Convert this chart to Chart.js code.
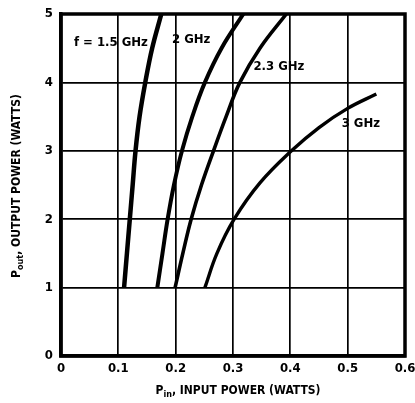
<!DOCTYPE html>
<html><head><meta charset="utf-8">
<script src="https://cdn.jsdelivr.net/npm/chart.js@4.4.0/dist/chart.umd.min.js"></script>
<style>html,body{margin:0;padding:0;background:#fff}#wrap{width:415px;height:403px}</style>
</head><body><div id="wrap"><canvas id="c" width="415" height="403"></canvas></div>
<script>
const xTicks = [0, 0.1, 0.2, 0.3, 0.4, 0.5, 0.6];
const yTicks = [0, 1, 2, 3, 4, 5];
const seriesNames = ['f = 1.5 GHz', '2 GHz', '2.3 GHz', '3 GHz'];
const pin15  = [0.110, 0.115, 0.120, 0.125, 0.130, 0.137, 0.147, 0.159, 0.175];
const pout15 = [1, 1.5, 2, 2.5, 3, 3.5, 4, 4.5, 5];
const pin20  = [0.168, 0.177, 0.186, 0.197, 0.211, 0.229, 0.251, 0.280, 0.318];
const pout20 = [1, 1.5, 2, 2.5, 3, 3.5, 4, 4.5, 5];
const pin23  = [0.199, 0.2125, 0.227, 0.245, 0.266, 0.288, 0.312, 0.347, 0.393];
const pout23 = [1, 1.5, 2, 2.5, 3, 3.5, 4, 4.5, 5];
const pin30  = [0.251, 0.272, 0.302, 0.347, 0.402, 0.450, 0.500, 0.550];
const pout30 = [1, 1.5, 2, 2.53, 3, 3.34, 3.62, 3.83];
const labelX = [0.087, 0.227, 0.380, 0.523];
const labelY = [4.58, 4.62, 4.23, 3.39];

const FONT = "'Liberation Sans Narrow','DejaVu Sans Condensed','Arial Narrow',sans-serif";
const zip = (xs, ys) => xs.map((x, i) => ({x, y: ys[i]}));
const pins = [pin15, pin20, pin23, pin30];
const pouts = [pout15, pout20, pout23, pout30];
const widths = [4.5, 4, 3.6, 3.4];

const overlay = {
  id: 'overlay',
  afterDraw(chart) {
    const {ctx, chartArea: a, scales} = chart;
    ctx.save();
    ctx.strokeStyle = '#000';
    ctx.lineWidth = 3.5;
    ctx.strokeRect(a.left, a.top, a.right - a.left, a.bottom - a.top);
    ctx.fillStyle = '#000';
    ctx.textBaseline = 'middle';
    ctx.textAlign = 'center';
    ctx.font = 'bold 13px ' + FONT;
    seriesNames.forEach((n, i) => {
      ctx.fillText(n, scales.x.getPixelForValue(labelX[i]), scales.y.getPixelForValue(labelY[i]));
    });
    function drawSub(main, sub, rest, cx, cy, rot) {
      ctx.save();
      ctx.translate(cx, cy);
      ctx.rotate(rot);
      const f1 = 'bold 12px ' + FONT, f2 = 'bold 9px ' + FONT;
      ctx.font = f1; const w1 = ctx.measureText(main).width;
      const w3 = ctx.measureText(rest).width;
      ctx.font = f2; const w2 = ctx.measureText(sub).width;
      let x = -(w1 + w2 + w3) / 2;
      ctx.textAlign = 'left';
      ctx.font = f1; ctx.fillText(main, x, 0); x += w1;
      ctx.font = f2; ctx.fillText(sub, x, 4); x += w2;
      ctx.font = f1; ctx.fillText(rest, x, 0);
      ctx.restore();
    }
    drawSub('P', 'in', ', INPUT POWER (WATTS)', 238, 391, 0);
    drawSub('P', 'out', ', OUTPUT POWER (WATTS)', 17, 186, -Math.PI / 2);
    ctx.restore();
  }
};

new Chart(document.getElementById('c'), {
  type: 'scatter',
  data: {
    datasets: pins.map((p, i) => ({
      label: seriesNames[i],
      data: zip(p, pouts[i]),
      showLine: true,
      borderColor: '#000',
      borderWidth: widths[i],
      pointRadius: 0,
      tension: 0.4,
      borderCapStyle: 'butt',
      fill: false
    }))
  },
  options: {
    responsive: false,
    animation: false,
    layout: {padding: {top: 14, right: 10, left: 0, bottom: 0}},
    plugins: {legend: {display: false}, tooltip: {enabled: false}},
    scales: {
      x: {
        type: 'linear', min: 0, max: 0.6,
        afterFit(s) { s.height = 47; s.paddingLeft = 0; s.paddingRight = 0; },
        afterBuildTicks(s) { s.ticks = xTicks.map(v => ({value: v})); },
        ticks: {color: '#000', font: {family: FONT, size: 13, weight: 'bold'}, padding: 5,
          callback: v => String(v)},
        grid: {color: '#000', lineWidth: 1.7, drawTicks: false},
        border: {color: '#000', width: 3.5}
      },
      y: {
        type: 'linear', min: 0, max: 5,
        afterFit(s) { s.width = 61; s.paddingTop = 0; s.paddingBottom = 0; },
        afterBuildTicks(s) { s.ticks = yTicks.map(v => ({value: v})); },
        ticks: {color: '#000', font: {family: FONT, size: 13, weight: 'bold'}, padding: 8,
          callback: v => String(v)},
        grid: {color: '#000', lineWidth: 1.7, drawTicks: false},
        border: {color: '#000', width: 3.5}
      }
    }
  },
  plugins: [overlay]
});
</script></body></html>
